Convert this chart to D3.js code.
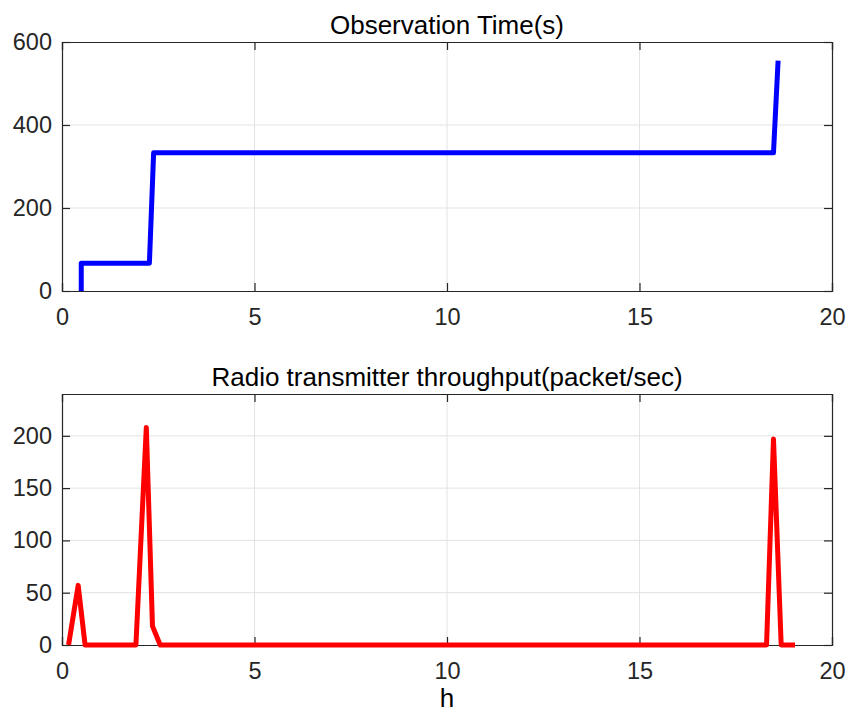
<!DOCTYPE html>
<html>
<head>
<meta charset="utf-8">
<script src="https://cdn.jsdelivr.net/npm/d3@7"></script>
<style>
  body { margin: 0; background: #fff; }
  svg { display: block; font-family: "Liberation Sans", Arial, Helvetica, sans-serif; }
  .grid line { stroke: #e3e3e3; stroke-width: 1; }
  .tick-label { fill: #262626; font-size: 23.5px; }
  .title { fill: #000; font-size: 26px; }
</style>
</head>
<body>
<svg id="chart" width="859" height="715"></svg>
<script>
// observation time, step-like growth (hours, seconds)
const obs_hours = [0.5, 0.5, 2.27, 2.38, 18.48, 18.6];
const obs_seconds = [0, 67, 67, 333, 333, 555];

// radio throughput (hours, packet/sec)
const tx_hours = [0.17, 0.42, 0.6, 1.92, 2.19, 2.35, 2.55, 18.3, 18.48, 18.68, 19.04];
const tx_rate = [0, 57, 0, 0, 208, 18, 0, 0, 197, 0, 0];

const x_ticks = [0, 5, 10, 15, 20];
const obs_ticks = [0, 200, 400, 600];
const tx_ticks = [0, 50, 100, 150, 200];

const svg = d3.select('#chart');
const left = 62, right = 832;

function panel(opts) {
  const x = d3.scaleLinear().domain([0, 20]).range([left, right]);
  const y = d3.scaleLinear().domain(opts.y_domain).range([opts.bottom, opts.top]);
  const g = svg.append('g');

  // grid
  const grid = g.append('g').attr('class', 'grid');
  grid.selectAll('.gx').data(x_ticks.slice(1, -1)).enter().append('line')
    .attr('x1', (d) => x(d)).attr('x2', (d) => x(d))
    .attr('y1', opts.top).attr('y2', opts.bottom);
  grid.selectAll('.gy').data(opts.y_ticks.filter((d) => d > opts.y_domain[0] && d < opts.y_domain[1])).enter().append('line')
    .attr('x1', left).attr('x2', right)
    .attr('y1', (d) => y(d)).attr('y2', (d) => y(d));

  // axes, ticks pointing inward, box on
  const tick_len = 8;
  g.append('g').attr('transform', `translate(0,${opts.bottom})`)
    .call(d3.axisBottom(x).tickValues(x_ticks).tickSize(-tick_len).tickPadding(17).tickFormat(d3.format('d')));
  g.append('g').attr('transform', `translate(0,${opts.top})`)
    .call(d3.axisTop(x).tickValues(x_ticks).tickSize(-tick_len).tickFormat(''));
  g.append('g').attr('transform', `translate(${left},0)`)
    .call(d3.axisLeft(y).tickValues(opts.y_ticks).tickSize(-tick_len).tickPadding(10).tickFormat(d3.format('d')));
  g.append('g').attr('transform', `translate(${right},0)`)
    .call(d3.axisRight(y).tickValues(opts.y_ticks).tickSize(-tick_len).tickFormat(''));

  g.selectAll('.domain').attr('stroke', '#262626').attr('stroke-width', 1.2);
  g.selectAll('.tick line').attr('stroke', '#262626').attr('stroke-width', 1.2);
  g.selectAll('.tick text').attr('class', 'tick-label').attr('font-family', null).attr('font-size', null);

  const line = d3.line().x((d) => x(d[0])).y((d) => y(d[1]));
  g.append('path')
    .datum(d3.zip(opts.xs, opts.ys))
    .attr('d', line)
    .attr('fill', 'none')
    .attr('stroke', opts.color)
    .attr('stroke-width', 5)
    .attr('stroke-linejoin', 'round');

  g.append('text').attr('class', 'title')
    .attr('x', (left + right) / 2).attr('y', opts.top - 8)
    .attr('text-anchor', 'middle')
    .text(opts.title);
}

panel({
  top: 42, bottom: 291, y_domain: [0, 600], y_ticks: obs_ticks,
  xs: obs_hours, ys: obs_seconds, color: '#0000ff',
  title: 'Observation Time(s)'
});

panel({
  top: 394, bottom: 645, y_domain: [0, 240], y_ticks: tx_ticks,
  xs: tx_hours, ys: tx_rate, color: '#ff0000',
  title: 'Radio transmitter throughput(packet/sec)'
});

svg.append('text').attr('class', 'title')
  .attr('x', (left + right) / 2).attr('y', 707)
  .attr('text-anchor', 'middle')
  .attr('fill', '#262626')
  .text('h');
</script>
</body>
</html>
